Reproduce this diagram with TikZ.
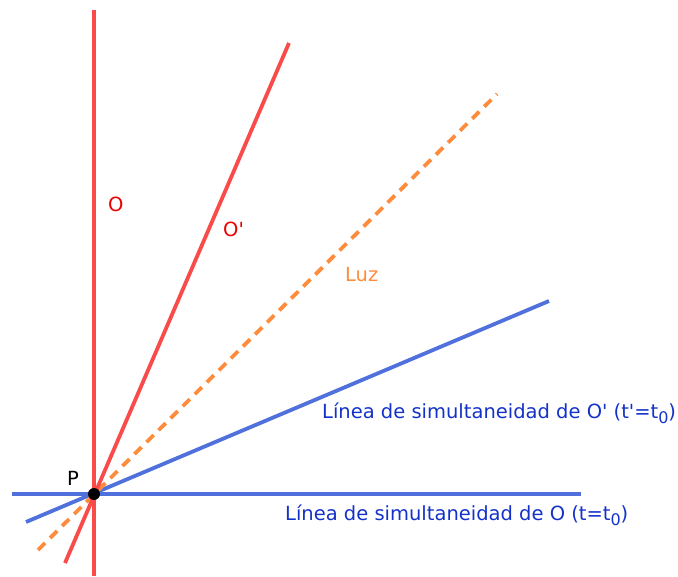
\documentclass[tikz,border=0pt]{standalone}
\usepackage{fontspec}
\setmainfont{DejaVu Sans}[Ligatures=TeXOff]
\usetikzlibrary{positioning}
\definecolor{wred}{RGB}{250,75,75}
\definecolor{tred}{RGB}{235,0,0}
\definecolor{wblue}{RGB}{80,112,220}
\definecolor{tblue}{RGB}{20,50,200}
\definecolor{lorange}{RGB}{255,140,60}
\newcommand{\subz}{\raisebox{-0.45ex}{\fontsize{16}{18}\selectfont 0}}
\begin{document}
\begin{tikzpicture}[
  x=1pt, y=-1pt,
  world/.style={draw=wred, line width=3.8pt},
  simul/.style={draw=wblue, line width=3.8pt},
  light/.style={draw=lorange, line width=3.8pt, dash pattern=on 10pt off 7pt},
  lbl/.style={font=\fontsize{19.5}{22}\selectfont, inner sep=0pt, anchor=west}
]
\useasboundingbox (0,0) rectangle (678,577);
\coordinate (P) at (94,494);
\coordinate (oTop) at (94,10);
\coordinate (oBot) at (94,576);
\coordinate (opTop) at (289,43);
\coordinate (opBot) at (65,563);
\coordinate (lTop) at (497,94);
\coordinate (lBot) at (38,550);
\coordinate (sTop) at (549,301);
\coordinate (sBot) at (26,522);
\coordinate (hL) at (12,494);
\coordinate (hR) at (581,494);
\draw[world] (oBot) -- (oTop);
\draw[simul] (hL) -- (hR);
\draw[simul] (sBot) -- (sTop);
\draw[light] (lBot) -- (lTop);
\draw[world] (opBot) -- (opTop);
\fill (P) circle (6pt);
\node[lbl, text=tred] (o) at (108,204) {O};
\node[lbl, text=tred] (op) at (223,229) {O'};
\node[lbl, text=lorange] (luz) at (345,275) {Luz};
\node[lbl, text=tblue] (simop) at (322,413) {Línea de simultaneidad de O' (t'=t\subz)};
\node[lbl, text=tblue] (simo) at (285,515) {Línea de simultaneidad de O (t=t\subz)};
\node[lbl] (p) at (67,478) {P};
\end{tikzpicture}
\end{document}
